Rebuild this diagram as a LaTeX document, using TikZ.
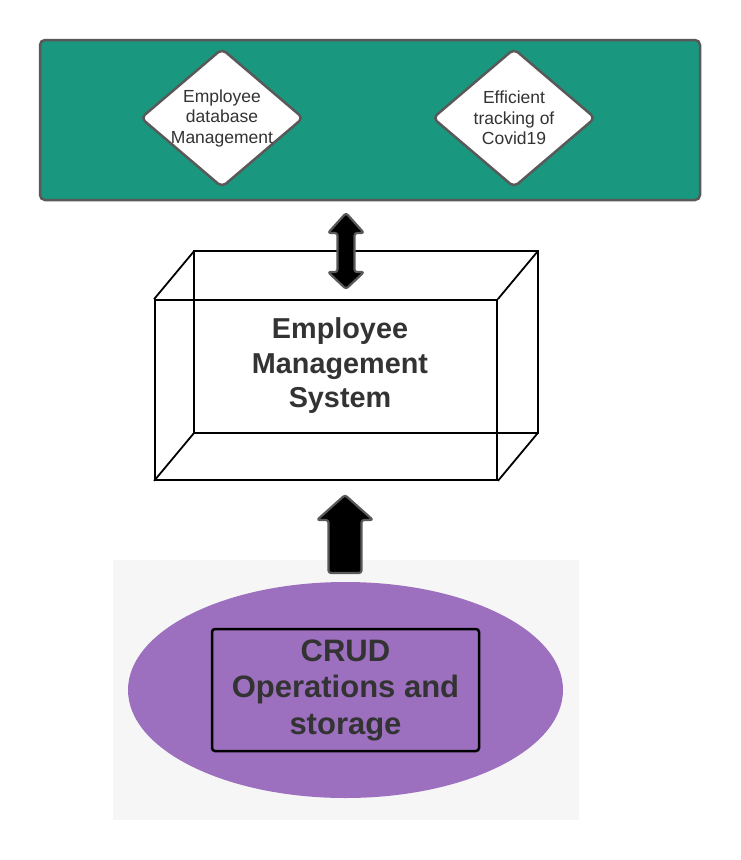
\documentclass[tikz,border=0pt]{standalone}
\usepackage{fontspec}
\setmainfont{Liberation Sans}
\usetikzlibrary{calc,positioning,shapes.geometric}

\begin{document}
\begin{tikzpicture}[
    x=1pt,y=-1pt,
    panel/.style={draw=edge,fill=goals,line width=2.5pt,rounded corners=5pt,
      minimum width=660pt,minimum height=160pt},
    goal/.style={diamond,draw=edge,fill=white,line width=2.5pt,rounded corners=5pt,
      minimum width=163pt,minimum height=139pt,inner sep=0pt},
    goaltext/.style={align=center,text=ink,font=\fontsize{17.5}{20.5}\selectfont},
    box lines/.style={draw=black,line width=1.8pt},
    block arrow/.style={fill=black,draw=edge,line width=2.2pt,rounded corners=2.5pt,line join=round}
  ]
  \definecolor{goals}{HTML}{1A977F}
  \definecolor{edge}{HTML}{595959}
  \definecolor{ink}{HTML}{333333}
  \definecolor{crud}{HTML}{9C70BF}
  \definecolor{backdrop}{HTML}{F6F6F6}
  \useasboundingbox (0,0) rectangle (740,860);
  % top panel with the two goals
  \node [panel] (goals) at (370,120) {};
  \node [goal] (dbm) at (222,118) {};
  \node [goaltext] at (dbm) {Employee\\database\\Management};
  \node [goal] (covid) at (514,118) {};
  \node [goaltext] at (covid) {Efficient\\tracking of\\Covid19};
  % the system, as an open box
  \node [box lines,minimum width=342pt,minimum height=180pt,inner sep=0pt] (ems) at (326,390) {};
  \draw [box lines] ($(ems.north west)+(40,-48)$) rectangle ($(ems.south east)+(40,-48)$);
  \foreach \corner in {north west,north east,south west,south east}
    \draw [box lines] (ems.\corner) -- ++(40,-48);
  \node [align=center,text=ink,font=\fontsize{28.8}{34.5}\selectfont\bfseries] (emstext)
    at ($(ems.center)+(14,-24)$) {Employee\\Management\\System};
  % storage layer
  \fill [backdrop] (113,560) rectangle (579,820);
  \node [ellipse,fill=crud,minimum width=435pt,minimum height=216pt,inner sep=0pt] (store) at (345.5,690) {};
  \node [draw=black,line width=2.5pt,rounded corners=3pt,minimum width=267pt,minimum height=122pt,
    align=center,text=ink,font=\fontsize{31}{36.5}\selectfont\bfseries] (crudbox)
    at (store) {CRUD\\Operations and\\storage};
  % arrows between the layers
  \draw [block arrow] (346,213) -- (364,233) -- (354.5,233) -- (354.5,272) -- (364,272)
    -- (346,289) -- (328,272) -- (337.5,272) -- (337.5,233) -- (328,233) -- cycle;
  \draw [block arrow] (345,495) -- (373,520) -- (361.5,520) -- (361.5,573) -- (328.5,573)
    -- (328.5,520) -- (317,520) -- cycle;
\end{tikzpicture}
\end{document}
